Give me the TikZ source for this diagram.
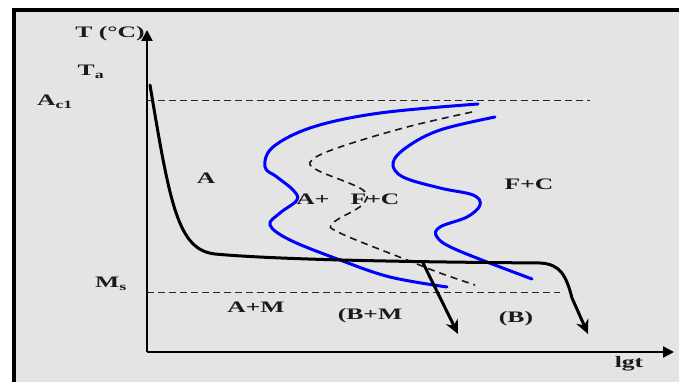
\documentclass[tikz,border=0pt]{standalone}
\usepackage{fontspec}
\setmainfont[FakeStretch=1.6]{Liberation Serif}
\usepackage{tikz}
\usetikzlibrary{arrows.meta,positioning}

\definecolor{bg_gray}{RGB}{228,228,228}
\definecolor{txt_dark}{RGB}{30,25,20}

\begin{document}
\begin{tikzpicture}[
    x=1pt, y=-1pt,
    frame/.style={line width=4pt, draw=black, fill=bg_gray},
    axis/.style={line width=2.2pt, -{Triangle[length=11pt,width=11pt]}},
    level_line/.style={line width=0.9pt, draw=black!85, dash pattern=on 7pt off 4pt},
    cool_curve/.style={line width=3pt, line cap=round, line join=round},
    cool_arrow/.style={cool_curve, -{Stealth[length=14pt,width=13pt]}},
    blue_curve/.style={line width=3pt, draw=blue, line cap=round},
    split_curve/.style={line width=1.6pt, draw=black!90, dash pattern=on 7pt off 5pt},
    lbl/.style={inner sep=0pt, text=txt_dark, font=\bfseries\fontsize{16}{18}\selectfont}
]
\useasboundingbox (0,0) rectangle (679,382);
\clip (0,0) rectangle (679,382);

% Frame
\draw[frame] (14,10) rectangle (700,400);

% Axes
\coordinate (O) at (147,352);
\coordinate (y_top) at (147,30);
\coordinate (x_end) at (674,352);
\draw[axis] (O) -- (y_top);
\draw[axis] (O) -- (x_end);

% Axis labels
\node[lbl] (t_lab) at (110,34) {T (°C)};
\node[lbl] (ta_lab) at (91,72) {T\textsubscript{a}};
\node[lbl] (ac_lab) at (55,102) {A\textsubscript{c1}};
\node[lbl] (ms_lab) at (111,284) {M\textsubscript{s}};
\node[lbl] (lgt_lab) at (629,364) {lgt};

% Level lines
\coordinate (ac_l) at (147,100);
\coordinate (ac_r) at (590,100);
\coordinate (ms_l) at (147,292);
\coordinate (ms_r) at (560,292);
\draw[level_line] (ac_l) -- (ac_r);
\draw[level_line] (ms_l) -- (ms_r);

% C-curves
\draw[blue_curve] plot[smooth, tension=0.6] coordinates {(478,104) (380,113) (313,127) (273,147) (265,167) (277,177) (293,190) (297,200) (280,213) (270,225) (290,240) (340,260) (390,277) (447,287)};
\draw[split_curve] plot[smooth, tension=0.6] coordinates {(472,112) (407,127) (340,147) (312,160) (317,170) (363,190) (362,205) (333,223) (340,233) (407,260) (440,273) (475,285)};
\draw[blue_curve] plot[smooth, tension=0.6] coordinates {(495,117) (440,130) (407,147) (393,163) (403,177) (440,188) (473,195) (480,205) (467,217) (440,227) (437,237) (457,250) (532,279)};

% Cooling curves
\coordinate (cool_start) at (150,85);
\coordinate (split) at (423,263);
\coordinate (tip_bm) at (458,334);
\coordinate (tip_b) at (588,334);
\draw[cool_arrow] (cool_start) .. controls (170,205) and (178,250) .. (215,254)
    .. controls (280,260) and (420,262) .. (540,263)
    .. controls (560,264) and (566,275) .. (572,298) -- (tip_b);
\draw[cool_arrow] (split) -- (tip_bm);

% Phase labels
\node[lbl] (a_lab) at (206,178) {A};
\node[lbl] (ap_lab) at (313,199) {A+};
\node[lbl] (fc_lab) at (375,199) {F+C};
\node[lbl] (fc2_lab) at (529,184) {F+C};
\node[lbl] (am_lab) at (256,307) {A+M};
\node[lbl] (bm_lab) at (370,316) {(B+M};
\node[lbl] (b_lab) at (516,319) {(B)};

\end{tikzpicture}
\end{document}
